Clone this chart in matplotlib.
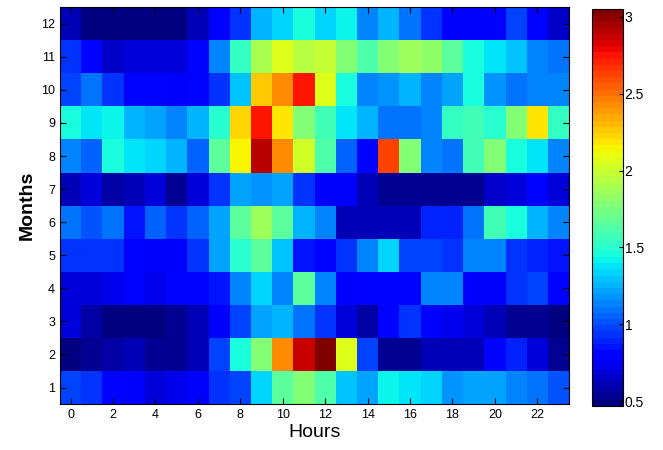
import numpy as np
import matplotlib
matplotlib.use('Agg')
import matplotlib.pyplot as plt

plt.rcParams['font.family'] = ['Liberation Sans', 'DejaVu Sans']

hours = np.arange(24)
months = np.arange(1, 13)

# mean values, one row per month (1..12), one column per hour (0..23)
m1  = [0.98,0.92,0.82,0.77,0.70,0.73,0.77,0.92,0.98,1.32,1.65,1.76,1.60,1.28,1.22,1.42,1.36,1.32,1.18,1.22,1.22,1.15,1.08,1.02]
m2  = [0.47,0.55,0.58,0.60,0.55,0.55,0.63,0.98,1.44,1.76,2.43,2.86,3.05,2.08,0.98,0.55,0.55,0.60,0.63,0.63,0.80,0.90,0.70,0.52]
m3  = [0.70,0.58,0.48,0.48,0.48,0.55,0.63,0.77,0.98,1.22,1.25,1.08,0.95,0.70,0.58,0.80,0.92,0.77,0.72,0.70,0.63,0.55,0.52,0.50]
m4  = [0.70,0.70,0.73,0.82,0.73,0.80,0.80,0.85,1.15,1.32,1.12,1.65,1.12,0.77,0.80,0.80,0.80,1.12,1.12,0.78,0.78,0.92,0.98,0.80]
m5  = [0.92,0.95,0.95,0.82,0.77,0.77,0.92,1.22,1.48,1.65,1.28,0.85,0.80,0.92,1.12,1.32,0.98,0.98,0.95,1.12,1.12,0.95,0.90,0.85]
m6  = [1.08,1.02,1.08,0.85,1.05,0.95,1.05,1.22,1.65,1.85,1.65,1.25,1.12,0.63,0.63,0.63,0.63,0.90,0.90,1.08,1.57,1.44,1.25,1.12]
m7  = [0.63,0.70,0.58,0.60,0.70,0.55,0.70,0.95,1.22,1.18,1.22,0.92,0.77,0.77,0.60,0.55,0.55,0.55,0.55,0.55,0.66,0.70,0.82,0.70]
m8  = [1.12,1.05,1.44,1.36,1.32,1.25,1.05,1.66,2.14,2.92,2.43,2.04,1.62,1.05,0.80,2.63,1.76,1.12,1.08,1.57,1.76,1.44,1.36,1.15]
m9  = [1.44,1.36,1.42,1.25,1.22,1.15,1.25,1.50,2.24,2.75,2.17,1.76,1.57,1.36,1.25,1.08,1.08,1.15,1.55,1.57,1.48,1.76,2.20,1.55]
m10 = [0.98,1.08,0.95,0.82,0.80,0.77,0.82,0.92,1.28,2.27,2.43,2.73,2.08,1.44,1.15,1.18,1.25,1.12,1.22,1.46,1.18,1.08,1.15,1.15]
m11 = [0.95,0.80,0.66,0.70,0.70,0.70,0.80,1.12,1.55,1.92,2.08,1.95,1.98,1.76,1.60,1.80,1.88,1.82,1.65,1.46,1.36,1.28,1.15,1.08]
m12 = [0.60,0.50,0.50,0.50,0.50,0.50,0.60,0.80,0.95,1.25,1.35,1.44,1.35,1.40,1.12,1.25,1.08,0.92,0.78,0.78,0.78,0.97,0.80,0.65]

data = np.array([m1, m2, m3, m4, m5, m6, m7, m8, m9, m10, m11, m12])

fig = plt.figure(figsize=(6.63, 4.5), dpi=100)
ax = fig.add_axes([0.0905, 0.102, 0.768, 0.882])
cax = fig.add_axes([0.893, 0.098, 0.047, 0.882])

cmap = plt.get_cmap('jet', 64)
im = ax.pcolormesh(np.arange(25) - 0.5, np.arange(13) + 0.5, data,
                   cmap=cmap, vmin=0.47, vmax=3.05)

ax.set_xlim(-0.5, 23.5)
ax.set_ylim(0.5, 12.5)
ax.set_xticks(hours[::2])
ax.set_yticks(months)
ax.tick_params(direction='in', top=True, right=True, length=4, labelsize=9)
ax.set_xlabel('Hours', fontsize=14, labelpad=2)
ax.set_ylabel('Months', fontsize=14, fontweight='bold', labelpad=4)

cb = fig.colorbar(im, cax=cax)
cb.set_ticks([0.5, 1, 1.5, 2, 2.5, 3])
cb.set_ticklabels(['0.5', '1', '1.5', '2', '2.5', '3'])
cax.tick_params(direction='in', length=3, labelsize=10, pad=1)
cb.outline.set_linewidth(0.8)

fig.savefig('out.png', dpi=100)
